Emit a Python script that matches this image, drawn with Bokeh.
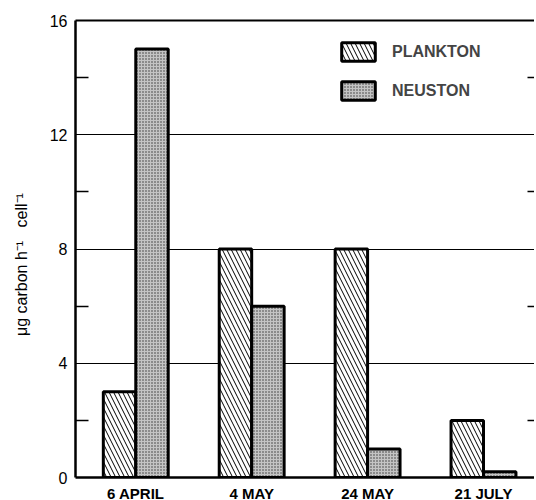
from bokeh.plotting import figure
from bokeh.models import ColumnDataSource, FixedTicker, LinearAxis, Range1d
from bokeh.transform import dodge
from bokeh.embed import file_html
from bokeh.resources import INLINE

dates = ["6 APRIL", "4 MAY", "24 MAY", "21 JULY"]
plankton = [3, 8, 8, 2]
neuston = [15, 6, 1, 0.2]
y_ticks = [0, 4, 8, 12, 16]
y_minor = [2, 6, 10, 14]

idx = list(range(len(dates)))
src = ColumnDataSource(dict(x=idx, plankton=plankton, neuston=neuston))

FONT = "Liberation Sans"

p = figure(output_backend="svg", toolbar_location=None,
           frame_width=459, frame_height=457,
           min_border_left=75, min_border_right=0, min_border_top=20, min_border_bottom=0,
           x_range=Range1d(-0.52, 3.44), y_range=Range1d(0, 16))
p.outline_line_color = None
p.background_fill_color = "white"

p.vbar(x=dodge("x", -0.14), top="plankton", width=0.28, source=src,
       fill_color="white", line_color="black", line_width=3,
       hatch_pattern="\\", hatch_color="black", hatch_scale=9, hatch_weight=1,
       legend_label="PLANKTON")
p.vbar(x=dodge("x", 0.14), top="neuston", width=0.28, source=src,
       fill_color="#c4c4c4", line_color="black", line_width=3,
       hatch_pattern=".", hatch_color="#333333", hatch_scale=3, hatch_weight=1,
       legend_label="NEUSTON")

# x axis (bottom)
xa = p.below[0]
xa.ticker = FixedTicker(ticks=idx)
xa.major_label_overrides = {i: d for i, d in enumerate(dates)}
xa.axis_line_width = 2.5
xa.major_tick_line_color = None
xa.minor_tick_line_color = None
xa.major_label_text_font = FONT
xa.major_label_text_font_style = "bold"
xa.major_label_text_font_size = "15px"
xa.major_label_text_color = "black"
xa.major_label_standoff = 1

# y axis (left)
ya = p.left[0]
ya.ticker = FixedTicker(ticks=y_ticks, minor_ticks=y_minor)
ya.axis_line_width = 2.5
ya.axis_line_color = "black"
ya.major_tick_in = 0
ya.major_tick_out = 0
ya.minor_tick_in = 13
ya.minor_tick_out = 0
ya.minor_tick_line_width = 1.5
ya.minor_tick_line_color = "black"
ya.major_label_text_font = FONT
ya.major_label_text_font_size = "16px"
ya.major_label_text_color = "black"
ya.major_label_standoff = 8
ya.axis_label = "\u03bcg carbon h\u207b\u00b9\u00a0\u00a0 cell\u207b\u00b9\u00a0\u00a0\u00a0\u00a0\u00a0\u00a0\u00a0"
ya.axis_label_text_font = FONT
ya.axis_label_text_font_style = "normal"
ya.axis_label_text_font_size = "16px"
ya.axis_label_text_color = "black"
ya.axis_label_standoff = 17

# right axis with inward ticks only
ra = LinearAxis(ticker=FixedTicker(ticks=[], minor_ticks=y_minor))
ra.axis_line_color = None
ra.major_tick_line_color = None
ra.minor_tick_in = 7
ra.minor_tick_out = 0
ra.minor_tick_line_width = 1.5
ra.minor_tick_line_color = "black"
p.add_layout(ra, "right")

# top line
ta = LinearAxis(ticker=FixedTicker(ticks=[]))
ta.axis_line_width = 2
ta.major_tick_line_color = None
ta.minor_tick_line_color = None
p.add_layout(ta, "above")

# grid
p.xgrid.grid_line_color = None
p.ygrid.ticker = FixedTicker(ticks=[4, 8, 12])
p.ygrid.grid_line_color = "black"
p.ygrid.grid_line_width = 1.2

# legend
lg = p.legend[0]
lg.location = (262, 375)
lg.border_line_color = None
lg.background_fill_alpha = 0
lg.padding = 0
lg.margin = 0
lg.spacing = 16
lg.glyph_width = 42
lg.glyph_height = 23
lg.label_standoff = 13
lg.label_text_font = FONT
lg.label_text_font_style = "bold"
lg.label_text_font_size = "16px"

open("out.html", "w").write(file_html(p, INLINE))
